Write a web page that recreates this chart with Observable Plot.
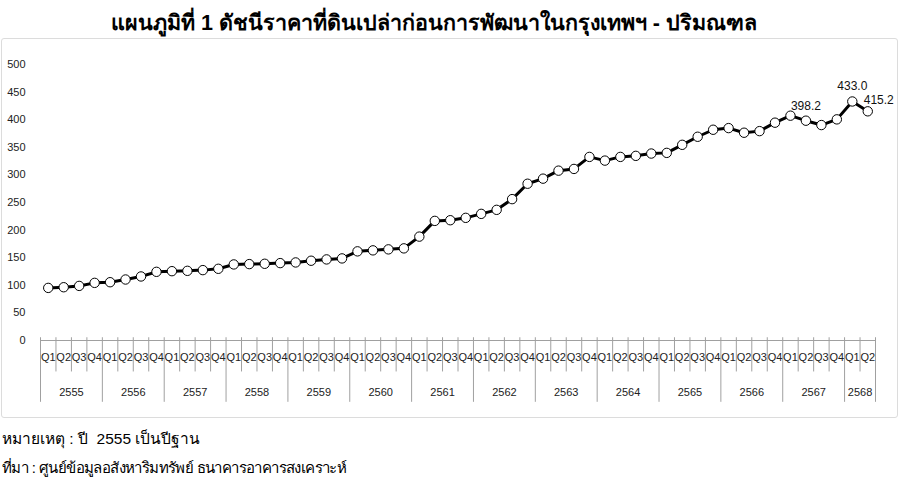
<!DOCTYPE html>
<html>
<head>
<meta charset="utf-8">
<script src="https://cdn.jsdelivr.net/npm/d3@7"></script>
<script src="https://cdn.jsdelivr.net/npm/@observablehq/plot@0.6"></script>
<style>
  html, body { margin: 0; padding: 0; background: #fff; }
  body { width: 900px; height: 483px; position: relative; overflow: hidden; font-family: "Liberation Sans", Arial, "Noto Sans", sans-serif; }
  #title { position: absolute; left: 0; top: 5px; width: 868px; text-align: center; font-size: 21.5px; font-weight: bold; color: #000; white-space: nowrap; }
  #frame { position: absolute; left: 1px; top: 38px; width: 895px; height: 378px; border: 1px solid #dcdcdc; border-radius: 3px; }
  #chart { position: absolute; left: 0; top: 38px; }
  .note { position: absolute; left: 2px; font-size: 15px; color: #000; white-space: pre; }
</style>
</head>
<body>
<div id="title">แผนภูมิที่ 1 ดัชนีราคาที่ดินเปล่าก่อนการพัฒนาในกรุงเทพฯ - ปริมณฑล</div>
<div id="frame"></div>
<div id="chart"></div>
<div class="note" style="top:426px; font-size:15.5px">หมายเหตุ : ปี  2555 เป็นปีฐาน</div>
<div class="note" style="top:456px; letter-spacing:-0.6px">ที่มา : ศูนย์ข้อมูลอสังหาริมทรัพย์ ธนาคารอาคารสงเคราะห์</div>
<script>
const years = ["2555","2556","2557","2558","2559","2560","2561","2562","2563","2564","2565","2566","2567","2568"];
const quarters = ["Q1","Q2","Q3","Q4"];
const values = [
  95.3, 96.5, 98.9, 104.4,
  105.6, 110.5, 116.0, 124.4,
  125.6, 126.2, 127.5, 129.9,
  137.8, 138.4, 139.0, 140.2,
  141.4, 144.5, 146.9, 148.7,
  161.5, 163.3, 165.1, 166.9,
  188.2, 216.7, 217.9, 222.2,
  229.4, 236.7, 256.1, 284.0,
  293.2, 307.7, 310.8, 332.6,
  325.9, 332.6, 334.5, 338.7,
  339.9, 354.5, 369.1, 381.8,
  384.8, 376.4, 379.3, 394.6,
  407.3, 398.2, 390.3, 400.6,
  433.0, 415.2
];
const labeled = ["2567 Q2", "2568 Q1", "2568 Q2"];
const yTicks = [0, 50, 100, 150, 200, 250, 300, 350, 400, 450, 500];

const periods = values.map((v, i) => ({
  i,
  year: years[Math.floor(i / 4)],
  q: quarters[i % 4],
  key: years[Math.floor(i / 4)] + " " + quarters[i % 4],
  value: v
}));
const n = periods.length;
const bounds = d3.range(0, n + 1).map(b => ({b, major: b % 4 === 0 || b === n}));
const yearSpans = years.map((y, k) => {
  const idx = periods.filter(p => p.year === y).map(p => p.i);
  return {year: y, mid: (d3.min(idx) + d3.max(idx) + 1) / 2};
});
const labelRows = periods.filter(p => labeled.includes(p.key));

const chart = Plot.plot({
  width: 900,
  height: 380,
  marginLeft: 40,
  marginRight: 25,
  marginTop: 26,
  marginBottom: 78,
  style: {fontFamily: '"Liberation Sans", Arial, sans-serif', fontSize: "11px", background: "transparent", color: "#222"},
  x: {domain: [0, n], axis: null},
  y: {domain: [0, 500], ticks: yTicks, tickSize: 0, tickPadding: 15, label: null, tickFormat: d => String(d)},
  marks: [
    Plot.ruleY([0], {stroke: "#a0a0a0", strokeWidth: 1}),
    Plot.ruleX(bounds, {x: "b", y1: 5, y2: d => d.major ? -112 : -57, stroke: "#a0a0a0", strokeWidth: 1}),
    Plot.text(periods, {x: d => d.i + 0.5, y: 0, dy: 17, text: "q", fontSize: 11, fill: "#222"}),
    Plot.text(yearSpans, {x: "mid", y: 0, dy: 52, text: "year", fontSize: 11, fill: "#222"}),
    Plot.line(periods, {x: d => d.i + 0.5, y: "value", stroke: "#000", strokeWidth: 3}),
    Plot.dot(periods, {x: d => d.i + 0.5, y: "value", r: 4.7, fill: "#fff", stroke: "#000", strokeWidth: 1}),
    Plot.text(labelRows.filter(d => d.key !== "2568 Q2"), {x: d => d.i + 0.5, y: "value", dy: -15, text: d => d.value.toFixed(1), fontSize: 12, fill: "#111"}),
    Plot.text(labelRows.filter(d => d.key === "2568 Q2"), {x: d => d.i + 0.5, y: "value", dx: 11, dy: -11, text: d => d.value.toFixed(1), fontSize: 12, fill: "#111"})
  ]
});
document.getElementById("chart").appendChild(chart);
</script>
</body>
</html>
